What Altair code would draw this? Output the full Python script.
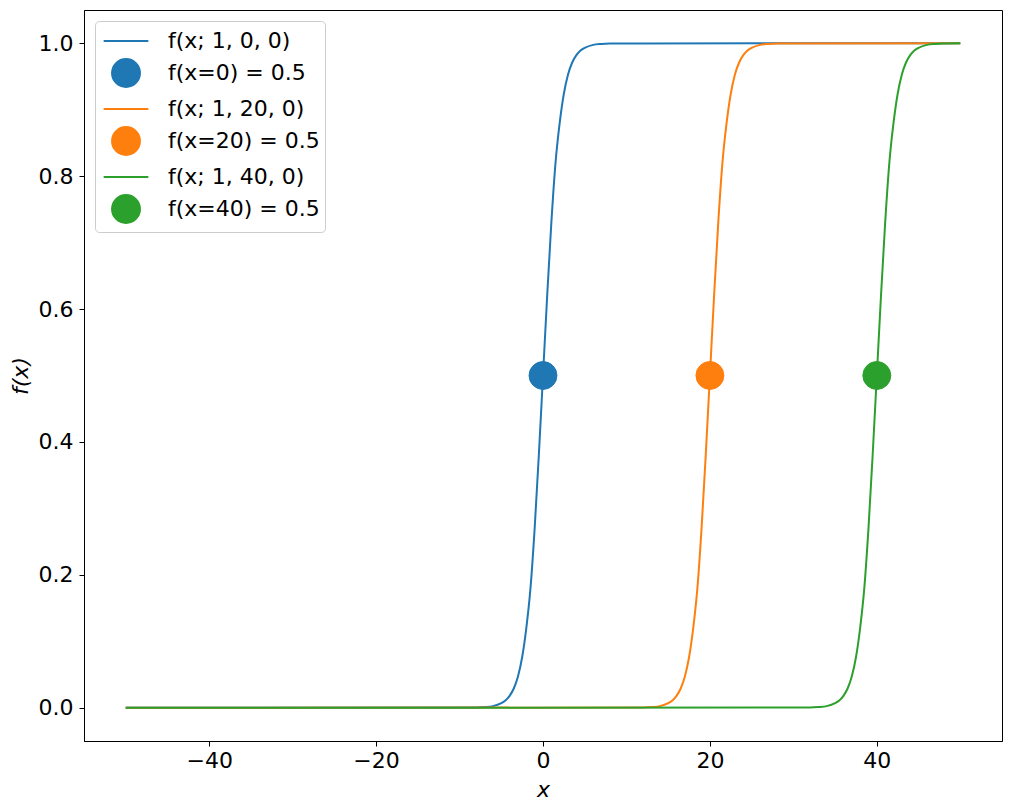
import altair as alt
import pandas as pd

# ---- data ----
curve_labels = ["f(x; 1, 0, 0)", "f(x; 1, 20, 0)", "f(x; 1, 40, 0)"]
dot_labels = ["f(x=0) = 0.5", "f(x=20) = 0.5", "f(x=40) = 0.5"]
colors = ["#1f77b4", "#ff7f0e", "#2ca02c"]

blue_x = [-50, -8, -7, -6, -5, -4.5, -4, -3.5, -3, -2.5, -2, -1.5, -1, -0.5, 0,
          0.5, 1, 1.5, 2, 2.5, 3, 3.5, 4, 4.5, 5, 6, 7, 8, 50]
orange_x = [-50, 12, 13, 14, 15, 15.5, 16, 16.5, 17, 17.5, 18, 18.5, 19, 19.5, 20,
            20.5, 21, 21.5, 22, 22.5, 23, 23.5, 24, 24.5, 25, 26, 27, 28, 50]
green_x = [-50, 32, 33, 34, 35, 35.5, 36, 36.5, 37, 37.5, 38, 38.5, 39, 39.5, 40,
           40.5, 41, 41.5, 42, 42.5, 43, 43.5, 44, 44.5, 45, 46, 47, 48, 50]
blue_y = [0.0, 0.0003, 0.001, 0.0025, 0.007, 0.011, 0.018, 0.029, 0.047, 0.076, 0.12,
          0.18, 0.27, 0.38, 0.5, 0.62, 0.73, 0.82, 0.88, 0.924, 0.953, 0.971, 0.982,
          0.989, 0.993, 0.9975, 0.999, 0.9997, 1.0]
orange_y = [0.0, 0.0003, 0.001, 0.0025, 0.007, 0.011, 0.018, 0.029, 0.047, 0.076, 0.12,
            0.18, 0.27, 0.38, 0.5, 0.62, 0.73, 0.82, 0.88, 0.924, 0.953, 0.971, 0.982,
            0.989, 0.993, 0.9975, 0.999, 0.9997, 1.0]
green_y = [0.0, 0.0003, 0.001, 0.0025, 0.007, 0.011, 0.018, 0.029, 0.047, 0.076, 0.12,
           0.18, 0.27, 0.38, 0.5, 0.62, 0.73, 0.82, 0.88, 0.924, 0.953, 0.971, 0.982,
           0.989, 0.993, 0.9975, 0.999, 0.9997, 1.0]

dot_x = [0, 20, 40]
dot_y = [0.5, 0.5, 0.5]

x_ticks = [-40, -20, 0, 20, 40]
y_ticks = [0.0, 0.2, 0.4, 0.6, 0.8, 1.0]

# ---- tables ----
rows = []
for lab, xs, ys in zip(curve_labels, [blue_x, orange_x, green_x], [blue_y, orange_y, green_y]):
    for xv, yv in zip(xs, ys):
        rows.append({"label": lab, "x": xv, "y": yv})
lines_df = pd.DataFrame(rows)
dots_df = pd.DataFrame({"label": dot_labels, "x": dot_x, "y": dot_y})

legend_domain = []
legend_colors = []
legend_shapes = []
for cl, dl, c in zip(curve_labels, dot_labels, colors):
    legend_domain += [cl, dl]
    legend_colors += [c, c]
    legend_shapes += ["M-1.6,0L1.6,0", "circle"]

color_scale = alt.Scale(domain=legend_domain, range=legend_colors)
shape_scale = alt.Scale(domain=legend_domain, range=legend_shapes)

x_enc = alt.X("x:Q", scale=alt.Scale(domain=[-55, 55], nice=False, zero=False),
              axis=alt.Axis(values=x_ticks, title="x", format="d", labelPadding=4, titlePadding=8))
y_enc = alt.Y("y:Q", scale=alt.Scale(domain=[-0.05, 1.05], nice=False, zero=False),
              axis=alt.Axis(values=y_ticks, title="f(x)", format=".1f", labelPadding=6, titlePadding=6))

lines = alt.Chart(lines_df).mark_line(strokeWidth=2, interpolate="monotone").encode(
    x=x_enc,
    y=y_enc,
    color=alt.Color("label:N", scale=alt.Scale(domain=curve_labels, range=colors), legend=None),
)

dots = alt.Chart(dots_df).mark_point(filled=True, size=780, opacity=1, strokeWidth=1).encode(
    x="x:Q",
    y="y:Q",
    fill=alt.Fill("label:N", scale=color_scale, title=None),
    stroke=alt.Stroke("label:N", scale=color_scale, title=None),
    shape=alt.Shape("label:N", scale=shape_scale, title=None),
)

chart = alt.layer(lines, dots).properties(
    width=918, height=731,
    autosize=alt.AutoSizeParams(type="none"),
    padding={"left": 76, "top": 2, "right": 1, "bottom": 62},
    background="white",
).configure_axis(
    grid=False,
    domainColor="black", tickColor="black", domainWidth=1, tickWidth=1, tickSize=5,
    labelFont="DejaVu Sans", labelFontSize=22, labelColor="black",
    titleFont="DejaVu Sans", titleFontSize=22, titleFontStyle="italic",
    titleFontWeight="normal", titleColor="black",
).configure_view(
    stroke="black", strokeWidth=1,
).configure_legend(
    orient="top-left", offset=11, padding=5, symbolOffset=11, labelOffset=27,
    labelFont="DejaVu Sans", labelFontSize=22, labelColor="black",
    symbolSize=780, symbolStrokeWidth=2, rowPadding=3,
    strokeColor="#cccccc", cornerRadius=4, fillColor="rgba(255,255,255,0.8)",
    symbolOpacity=1,
)

chart.save("out.html", embed_options={"renderer": "svg", "actions": False})
